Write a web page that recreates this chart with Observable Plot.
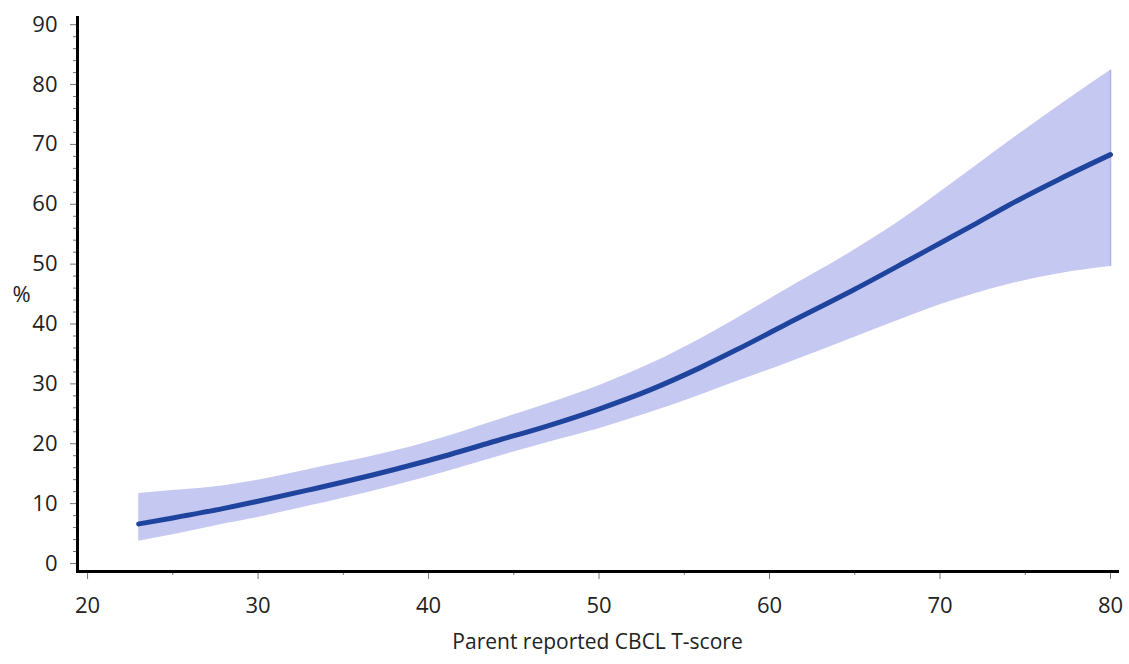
<!DOCTYPE html>
<html>
<head>
<meta charset="utf-8">
<script src="https://cdn.jsdelivr.net/npm/d3@7"></script>
<script src="https://cdn.jsdelivr.net/npm/@observablehq/plot@0.6"></script>
<style>
  html, body { margin: 0; padding: 0; background: #fff; }
  #chart svg { display: block; }
</style>
</head>
<body>
<div id="chart"></div>
<script>
// Parent reported CBCL T-score
const tScore = [23, 25, 28, 30, 33, 35, 38, 40, 44, 47, 50, 53, 56, 58, 61, 65, 68, 70, 72, 74, 77, 80];
// Estimated %
const pct    = [6.6, 7.6, 9.2, 10.4, 12.3, 13.6, 15.7, 17.2, 20.5, 23.0, 25.8, 29.0, 32.8, 35.6, 40.0, 45.8, 50.4, 53.5, 56.6, 59.8, 64.2, 68.3];
// Confidence band
const lower  = [3.7, 4.8, 6.6, 7.7, 9.6, 10.9, 13.0, 14.5, 17.8, 20.2, 22.5, 25.2, 28.2, 30.3, 33.4, 37.8, 41.1, 43.2, 45.0, 46.6, 48.4, 49.6];
const upper  = [11.7, 12.2, 13.0, 13.9, 15.7, 16.9, 18.8, 20.3, 23.9, 26.7, 29.7, 33.3, 37.6, 40.8, 45.8, 52.4, 57.9, 62.0, 66.2, 70.4, 76.5, 82.4];

const xTicks = [20, 30, 40, 50, 60, 70, 80];
const xMinorTicks = [25, 35, 45, 55, 65, 75];
const yTicks = [0, 10, 20, 30, 40, 50, 60, 70, 80, 90];
const yMinorTicks = d3.range(0, 91, 2).filter(v => v % 10 !== 0);

const xLabel = "Parent reported CBCL T-score";
const yLabel = "%";

const data = tScore.map((t, i) => ({t, mid: pct[i], lo: lower[i], hi: upper[i]}));

const font = "'Open Sans', 'Noto Sans', sans-serif";

const chart = Plot.plot({
  width: 1129,
  height: 664,
  marginLeft: 77,
  marginRight: 12,
  marginTop: 17,
  marginBottom: 93,
  style: {fontFamily: font, background: "#fff"},
  x: {domain: [19.41, 80.41]},
  y: {domain: [-1.34, 91.2]},
  marks: [
    Plot.areaY(data, {x: "t", y1: "lo", y2: "hi", fill: "#c5c8f0", curve: "monotone-x"}),
    Plot.ruleX(data.slice(-1), {x: "t", y1: "lo", y2: "hi", stroke: "#aeb3ea", strokeWidth: 1.5}),
    Plot.line(data, {x: "t", y: "mid", stroke: "#1f449e", strokeWidth: 5, curve: "monotone-x", strokeLinecap: "round"}),
    Plot.axisY({ticks: yTicks, tickSize: 7, tickPadding: 13, fontSize: 22, color: "#222", stroke: "#777", label: null}),
    Plot.axisY({ticks: yMinorTicks, tickSize: 4, text: null, stroke: "#777", label: null}),
    Plot.axisX({ticks: xTicks, tickSize: 8, tickPadding: 18, fontSize: 22, color: "#222", stroke: "#777", label: null}),
    Plot.axisX({ticks: xMinorTicks, tickSize: 4, text: null, stroke: "#777", label: null}),
    Plot.frame({anchor: "left", stroke: "#000", strokeWidth: 3}),
    Plot.frame({anchor: "bottom", stroke: "#000", strokeWidth: 3}),
    Plot.text([yLabel], {frameAnchor: "left", dx: -56, textAnchor: "middle", fontSize: 22, fill: "#222", fontFamily: font}),
    Plot.text([xLabel], {frameAnchor: "bottom", dy: 77, textAnchor: "middle", fontSize: 21, fill: "#222", fontFamily: font})
  ]
});

document.getElementById("chart").appendChild(chart);
</script>
</body>
</html>
